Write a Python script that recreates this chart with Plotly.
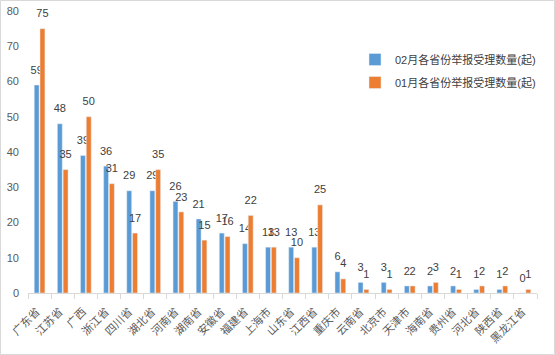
import plotly.graph_objects as go

provinces = ["广东省", "江苏省", "广西", "浙江省", "四川省", "湖北省", "河南省", "湖南省",
             "安徽省", "福建省", "上海市", "山东省", "江西省", "重庆市", "云南省", "北京市",
             "天津市", "海南省", "贵州省", "河北省", "陕西省", "黑龙江省"]
feb_counts = [59, 48, 39, 36, 29, 29, 26, 21, 17, 14, 13, 13, 13, 6, 3, 3, 2, 2, 2, 1, 1, 0]
jan_counts = [75, 35, 50, 31, 17, 35, 23, 15, 16, 22, 13, 10, 25, 4, 1, 1, 2, 3, 1, 2, 2, 1]
feb_name = "02月各省份举报受理数量(起)"
jan_name = "01月各省份举报受理数量(起)"
y_ticks = [0, 10, 20, 30, 40, 50, 60, 70, 80]

FONT = "Liberation Sans, Noto Sans CJK SC, sans-serif"


def lift(vals):
    return [f"<span style='font-size:11px'>{v}</span><br><span style='font-size:5px'> </span>" for v in vals]


fig = go.Figure()
fig.add_trace(go.Bar(x=provinces, y=feb_counts, name=feb_name, marker_color="#5B9BD5",
                     text=lift(feb_counts), textposition="outside", constraintext="none", cliponaxis=False,
                     textfont=dict(size=8, color="#404040", family=FONT), legendgroup="a"))
fig.add_trace(go.Bar(x=provinces, y=jan_counts, name=jan_name, marker_color="#ED7D31",
                     text=lift(jan_counts), textposition="outside", constraintext="none", cliponaxis=False,
                     textfont=dict(size=8, color="#404040", family=FONT), legendgroup="b"))

W, H = 555, 355
ml, mr, mt, mb = 28, 18, 11, 62
pw, ph = W - ml - mr, H - mt - mb

fig.update_layout(
    width=W, height=H,
    margin=dict(l=ml, r=mr, t=mt, b=mb, autoexpand=False),
    paper_bgcolor="white", plot_bgcolor="white",
    barmode="group", bargap=0.5, bargroupgap=0.15,
    font=dict(family=FONT, color="#595959", size=11),
    showlegend=True,
    legend=dict(x=(355 - ml) / pw, y=1 - (45 - mt) / ph, xanchor="left", yanchor="top",
                font=dict(size=11, color="#404040"), traceorder="grouped", tracegroupgap=4,
                bgcolor="rgba(0,0,0,0)", itemwidth=30),
    xaxis=dict(showline=True, linecolor="#d9d9d9", ticks="outside", tickcolor="#d9d9d9",
               ticklen=5, tickson="boundaries", tickangle=-45, automargin=False,
               ticklabelstandoff=7, ticklabelshift=-3,
               tickfont=dict(size=11, color="#595959", family="Noto Sans CJK SC"),
               showgrid=False),
    yaxis=dict(range=[0, 80], tickvals=y_ticks, showgrid=False, zeroline=False, showline=False,
               tickfont=dict(size=11, color="#595959"), ticks="", automargin=False,
               ticklabelstandoff=8),
    shapes=[dict(type="rect", xref="paper", yref="paper",
                 x0=(0.5 - ml) / pw, x1=(W - 0.5 - ml) / pw,
                 y0=1 + (mt - 0.5) / ph, y1=1 - (H - 0.5 - mt) / ph,
                 line=dict(color="#d9d9d9", width=1), layer="below")],
)

fig.write_html("out.html", config={"displayModeBar": False},
               post_script="document.body.style.margin='0';")
